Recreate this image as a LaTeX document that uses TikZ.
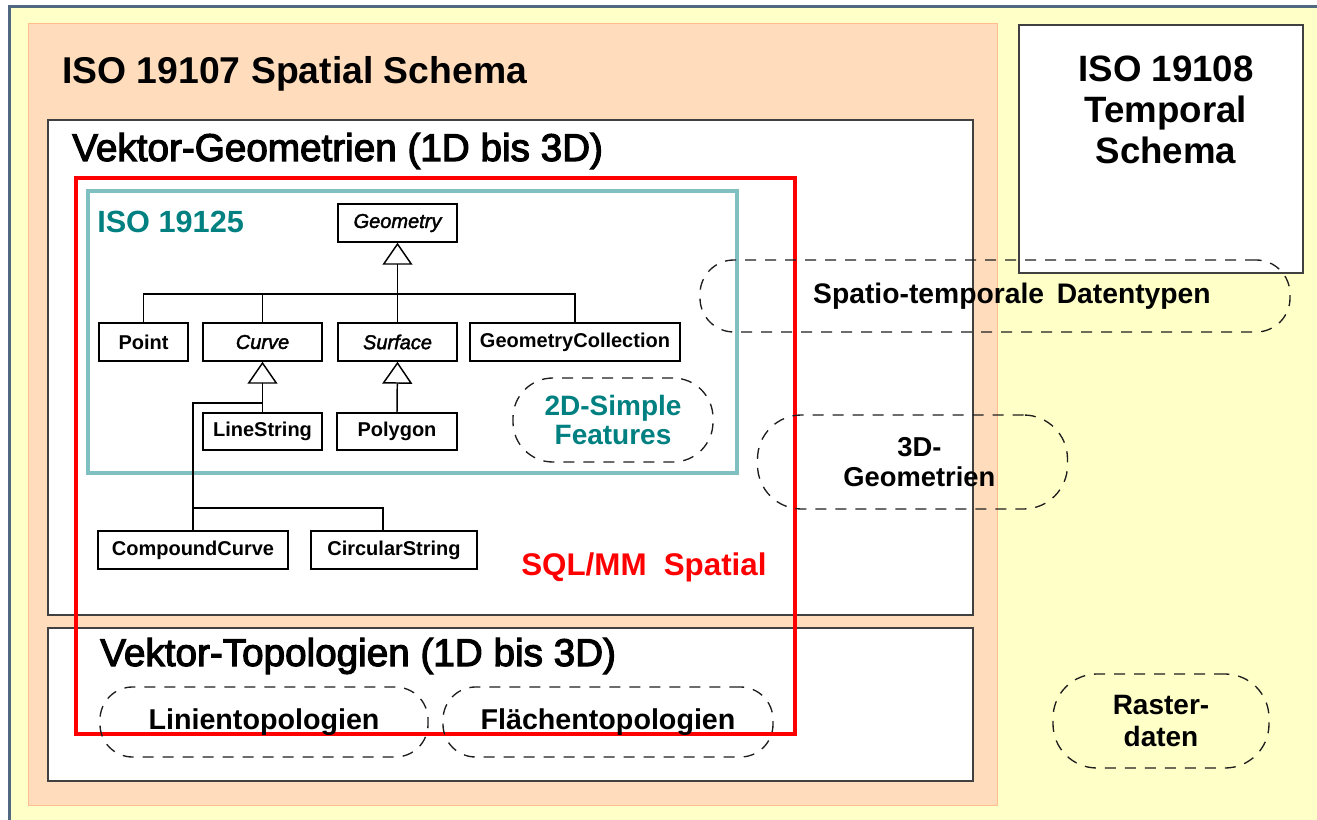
\documentclass[tikz,border=0pt]{standalone}
\usepackage{fontspec}
\setmainfont{Liberation Sans}
\newfontfamily\headfont[FakeBold=3]{Liberation Sans}
\newfontfamily\absfont[FakeBold=2]{Liberation Sans}
\usetikzlibrary{arrows.meta}
\definecolor{bgyellow}{RGB}{255,255,200}
\definecolor{peach}{RGB}{255,221,188}
\definecolor{peachline}{RGB}{255,190,140}
\definecolor{frameblue}{RGB}{80,104,128}
\definecolor{tealline}{RGB}{128,192,192}
\definecolor{tealtext}{RGB}{0,128,128}
\definecolor{boxline}{RGB}{64,64,64}
\definecolor{dashgray}{RGB}{30,30,30}
\tikzset{
  umlbox/.style={draw=black, line width=1.1pt, fill=white, inner sep=0pt,
    minimum height=28.5pt, font=\fontsize{15}{18}\selectfont\bfseries},
  umlabs/.style={umlbox, font=\fontsize{15}{18}\absfont\itshape},
  tree/.style={draw=black, line width=1.1pt},
  inherit/.style={tree, -{Triangle[open, width=22.5pt, length=16.5pt, line width=1.1pt]}},
  zone/.style={draw=boxline, line width=1.5pt, fill=white},
  txt/.style={inner sep=0pt},
  blob/.style={draw=dashgray, line width=1pt, dash pattern=on 8.25pt off 6.75pt,
    inner sep=0pt, align=center, font=\fontsize{20.5}{22.5}\selectfont\bfseries},
}
\begin{document}
\begin{tikzpicture}[x=0.75pt,y=-0.75pt]
\useasboundingbox (0,0) rectangle (1317,820);
% page background and frame
\fill[white] (0,0) rectangle (1317,820);
\fill[bgyellow] (8,5) rectangle (1317,820);
\draw[frameblue, line width=2.25pt] (9.5,820) -- (9.5,6.5) -- (1317,6.5);
% ISO 19107 area
\draw[peachline, line width=0.75pt, fill=peach] (28,24) rectangle (997,805);
% container boxes
\draw[zone] (48,120) rectangle (973,615);
\draw[zone] (48,628) rectangle (973,781);
\draw[zone] (1019,25) rectangle (1303,273);
% SQL/MM and ISO 19125 frames
\draw[red, line width=3pt] (76,178) rectangle (795,734);
\draw[tealline, line width=3pt] (88,191) rectangle (737,473);

% class hierarchy
\node[umlabs, minimum width=89.25pt] (geometry) at (397.5,223) {Geometry};
\node[umlbox, minimum width=66.75pt] (point) at (143.5,342) {Point};
\node[umlabs, minimum width=89.25pt] (curve) at (262.5,342) {Curve};
\node[umlabs, minimum width=89.25pt] (surface) at (397.5,342) {Surface};
\node[umlbox, minimum width=157.5pt] (gcoll) at (575,342) {GeometryCollection};
\node[umlbox, minimum width=89.25pt, minimum height=27.75pt] (linestring) at (262.5,431.5) {LineString};
\node[umlbox, minimum width=90pt, minimum height=27.75pt] (polygon) at (397,431.5) {Polygon};
\node[umlbox, minimum width=142.5pt] (compound) at (193,550) {CompoundCurve};
\node[umlbox, minimum width=124.5pt] (circular) at (394,550) {CircularString};

\coordinate (gj) at (397.5,294);
\coordinate (cj) at (262.5,403);
\coordinate (sj) at (193,508);
\coordinate (cstop) at (383,531);

\draw[inherit] (surface.north) -- (geometry.south);
\draw[tree] (point.north) |- (gcoll.north |- gj) -- (gcoll.north);
\draw[tree] (curve.north) -- (curve.north |- gj);
\draw[inherit] (linestring.north) -- (curve.south);
\draw[tree] (cj) -| (compound.north);
\draw[tree] (sj) -| (cstop);
\draw[inherit] (polygon.north) -- (surface.south);

% headings
\node[txt, anchor=base west, font=\fontsize{28}{34}\selectfont\bfseries] (title) at (62,84) {ISO 19107 Spatial Schema};
\node[txt, anchor=base west, font=\fontsize{29}{35}\headfont] (vgeo) at (72,161) {Vektor-Geometrien (1D bis 3D)};
\node[txt, anchor=base west, font=\fontsize{29}{35}\headfont] (vtopo) at (100,666) {Vektor-Topologien (1D bis 3D)};
\node[txt, anchor=base, align=center, font=\fontsize{27.5}{30.75}\selectfont\bfseries] (temporal) at (1166,164) {ISO 19108\\Temporal\\Schema};
\node[txt, anchor=base west, text=tealtext, font=\fontsize{23}{28}\selectfont\bfseries] (iso19125) at (97,233) {ISO 19125};
\node[txt, anchor=base west, text=red, font=\fontsize{23.5}{28}\selectfont\bfseries] (sqlmm) at (521,575) {SQL/MM\hspace{0.55em}Spatial};

% dashed topic outlines
\node[blob, minimum width=442.5pt, minimum height=54pt, rounded corners=25.5pt,
  font=\fontsize{21.2}{24}\selectfont\bfseries] (spatio) at (995,296) {\hspace{1.2em}Spatio-temporale\hspace{0.45em}Datentypen};
\node[blob, text=tealtext, minimum width=150pt, minimum height=63pt, rounded corners=30pt,
  font=\fontsize{21}{21.75}\selectfont\bfseries] (simple) at (613,420) {2D-Simple\\Features};
\node[blob, minimum width=232.5pt, minimum height=70.5pt, rounded corners=33pt] (threed) at (912.5,462) {\hspace{0.5em}3D-\\\hspace{0.5em}Geometrien};
\node[blob, minimum width=246pt, minimum height=52.5pt, rounded corners=24.5pt,
  font=\fontsize{21.5}{24}\selectfont\bfseries] (linien) at (264,722) {Linientopologien};
\node[blob, minimum width=247.5pt, minimum height=52.5pt, rounded corners=24.5pt,
  font=\fontsize{21.5}{24}\selectfont\bfseries] (flaechen) at (608,722) {Flächentopologien};
\node[blob, minimum width=162pt, minimum height=70.5pt, rounded corners=33pt,
  font=\fontsize{21}{24}\selectfont\bfseries] (raster) at (1161,721) {Raster-\\daten};
\end{tikzpicture}
\end{document}
